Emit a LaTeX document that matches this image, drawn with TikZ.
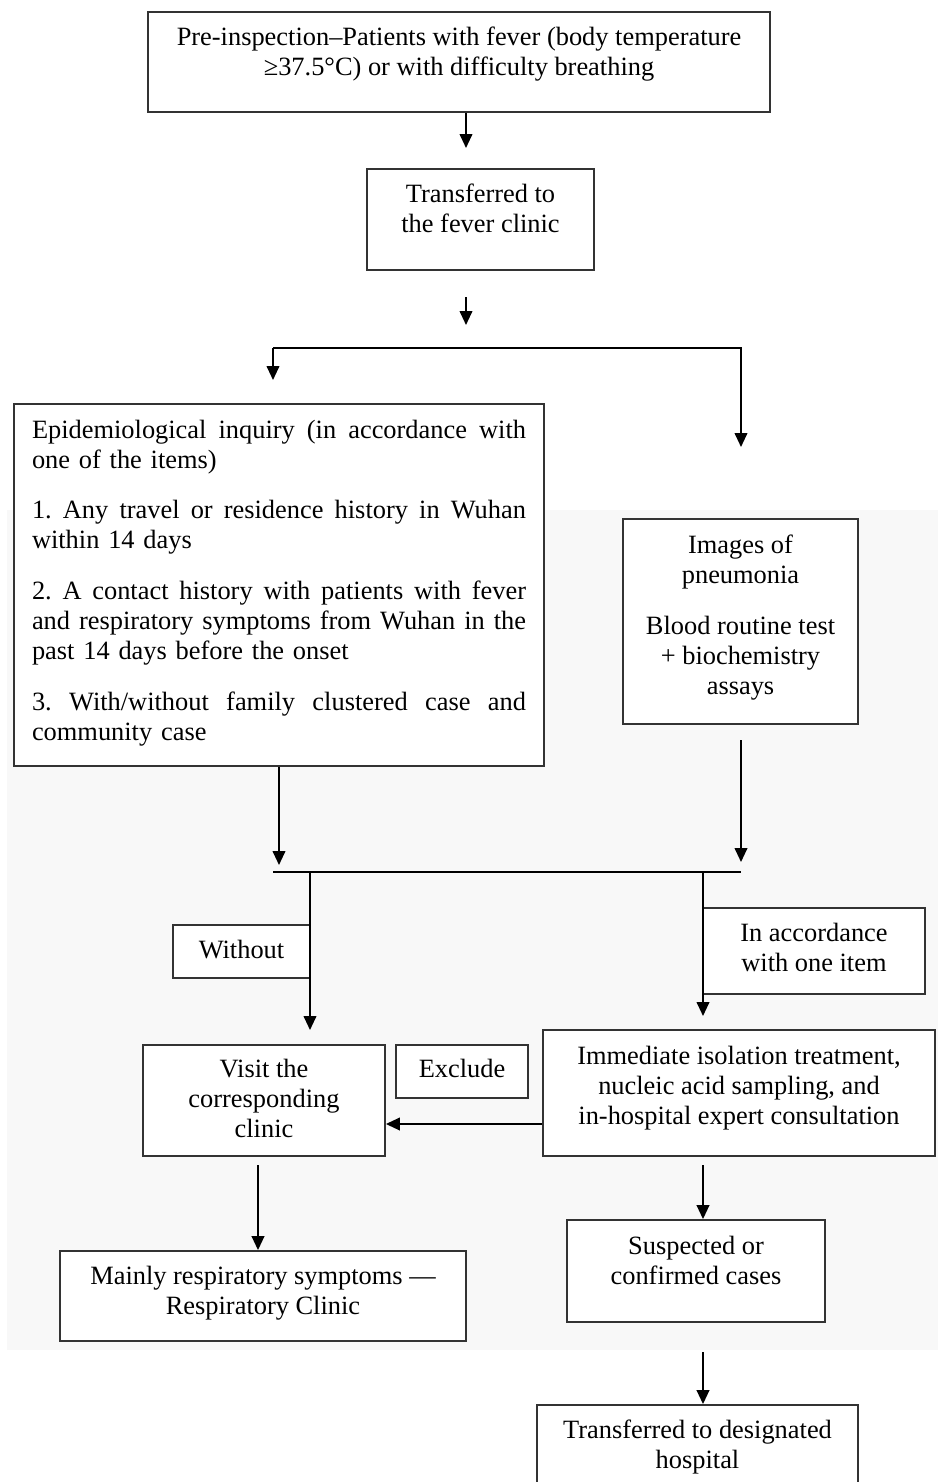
\documentclass[tikz,border=0pt]{standalone}
\usepackage{fontspec}
\setmainfont{Liberation Serif}
\usetikzlibrary{arrows.meta}
\definecolor{bggrey}{HTML}{F8F8F8}
\definecolor{linegrey}{HTML}{333333}
\newcommand\JLine[1]{\leavevmode{\spaceskip=0.25em plus 1fil\xspaceskip=0.25em plus 1fil\hbox to 370.5pt{#1}}}
\begin{document}
\begin{tikzpicture}[x=0.75pt,y=-0.75pt,
  box/.style={draw=linegrey, line width=1.4pt, fill=white, inner sep=0pt, align=center,
    font=\fontsize{19.8}{22.5}\selectfont},
  arr/.style={draw=black, line width=1.4pt, -{Triangle[width=9.5pt,length=10.5pt]}},
  ln/.style={draw=black, line width=1.4pt}]
\useasboundingbox (0,0) rectangle (938,1482);
\fill[bggrey] (7,510) rectangle (938,1350);

% boxes
\node[box, minimum width=466.5pt, minimum height=75pt, text height=36.5pt, text depth=17pt] (pre) at (459,62)
  {Pre-inspection–Patients with fever (body temperature\\ ≥37.5°C) or with difficulty breathing};
\node[box, minimum width=170.25pt, minimum height=75.75pt, text height=36.5pt, text depth=17.75pt] (fever) at (480.5,219.5)
  {Transferred to\\the fever clinic};
\node[box, minimum width=397.5pt, minimum height=271.5pt, text width=370.5pt, align=left, text height=14pt, text depth=234.5pt] (epi) at (279,585)
  {\JLine{Epidemiological inquiry (in accordance with}\\
   one of the items)\par\vspace{15.5pt}
   \JLine{1. Any travel or residence history in Wuhan}\\
   within 14 days\par\vspace{15.5pt}
   \JLine{2. A contact history with patients with fever}\\
   \JLine{and respiratory symptoms from Wuhan in the}\\
   past 14 days before the onset\par\vspace{15.5pt}
   \JLine{3. With/without family clustered case and}\\
   community case};
\node[box, minimum width=176.25pt, minimum height=153.75pt, text height=119.75pt, text depth=10.5pt] (img) at (740.5,621.5)
  {Images of\\pneumonia\\[15.75pt]Blood routine test\\+ biochemistry\\assays};
\node[box, minimum width=102.75pt, minimum height=39.75pt, text height=14pt, text depth=4pt] (without) at (241.5,951.5) {Without};
\node[box, minimum width=166.5pt, minimum height=64.5pt, text height=36.5pt, text depth=6.5pt] (inacc) at (814,951)
  {In accordance\\with one item};
\node[box, minimum width=181.5pt, minimum height=83.25pt, text height=59pt, text depth=4.25pt] (visit) at (264,1100.5)
  {Visit the\\corresponding\\clinic};
\node[box, minimum width=99pt, minimum height=39.75pt, text height=14pt, text depth=5.75pt] (exclude) at (462,1071.5) {Exclude};
\node[box, minimum width=294pt, minimum height=94.5pt, text height=59pt, text depth=12.5pt] (immed) at (739,1093)
  {Immediate isolation treatment,\\nucleic acid sampling, and\\in-hospital expert consultation};
\node[box, minimum width=304.5pt, minimum height=67.5pt, text height=36.5pt, text depth=8.75pt] (mainly) at (263,1296)
  {Mainly respiratory symptoms —\\Respiratory Clinic};
\node[box, minimum width=193.5pt, minimum height=76.5pt, text height=36.5pt, text depth=17pt] (susp) at (696,1271)
  {Suspected or\\confirmed cases};
\node[box, minimum width=240.75pt, minimum height=63.75pt, text height=36.5pt, text depth=5.75pt] (trans) at (697.5,1447.5)
  {Transferred to designated\\hospital};

% connectors
\coordinate (c1) at (466,148);
\draw[arr] (pre.south -| c1) -- (c1);
\coordinate (c2) at (466,297);
\coordinate (c3) at (466,325);
\draw[arr] (c2) -- (c3);
\coordinate (sl) at (273,348);
\coordinate (sr) at (741,348);
\coordinate (sla) at (273,380);
\coordinate (sra) at (741,447);
\draw[arr] (sl) -- (sla);
\draw[arr] (sl) -- (sr) -- (sra);

\coordinate (m1) at (279,865);
\draw[arr] (epi.south -| m1) -- (m1);
\coordinate (m2a) at (741,740);
\coordinate (m2) at (741,862);
\draw[arr] (m2a) -- (m2);
\coordinate (ml) at (273,872);
\coordinate (mr) at (741,872);
\draw[ln] (ml) -- (mr);

\coordinate (w1) at (310,872);
\coordinate (w2) at (310,1030);
\draw[arr] (w1) -- (w2);
\coordinate (a1) at (703,872);
\coordinate (a2) at (703,1016);
\draw[arr] (a1) -- (a2);

\coordinate (hy) at (0,1124);
\draw[arr] (immed.west |- hy) -- (visit.east |- hy);

\coordinate (v1) at (258,1165);
\draw[arr] (v1) -- (mainly.north -| v1);
\coordinate (i1) at (703,1165);
\draw[arr] (i1) -- (susp.north -| i1);
\coordinate (s1) at (703,1352);
\draw[arr] (s1) -- (trans.north -| s1);
\end{tikzpicture}
\end{document}
